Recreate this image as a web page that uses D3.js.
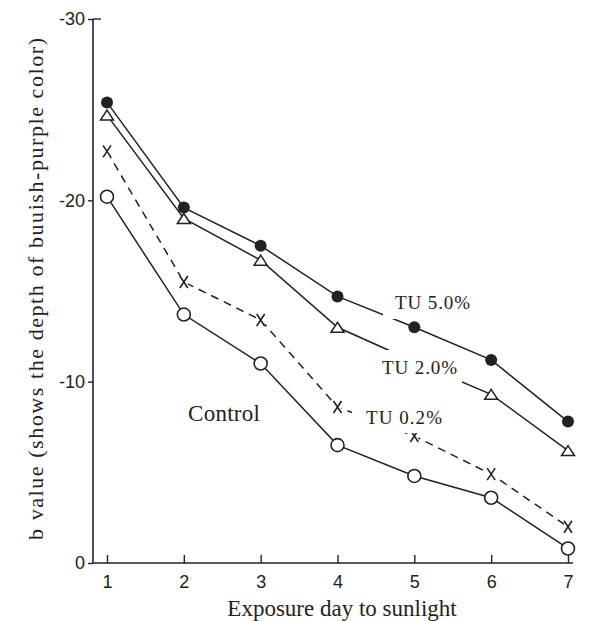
<!doctype html>
<html>
<head>
<meta charset="utf-8">
<title>b value vs exposure day</title>
<script src="https://cdnjs.cloudflare.com/ajax/libs/d3/7.8.5/d3.min.js"></script>
<style>
  body { margin: 0; background: #fff; }
  svg { display: block; }
  .tick text { font-family: "Liberation Sans", Arial, sans-serif; fill: #222; }
  .tick line { stroke: #222; stroke-width: 1.4; }
  .lbl { font-family: "Liberation Serif", "Times New Roman", serif; fill: #222; }
</style>
</head>
<body>
<div id="chart"></div>
<script>
// data (b value, negative = deeper colour)
const days = [1, 2, 3, 4, 5, 6, 7];
const tu50 = [-25.4, -19.6, -17.5, -14.7, -13.0, -11.2, -7.8];
const tu20 = [-24.7, -19.0, -16.7, -13.0, -11.1, -9.3, -6.2];
const tu02 = [-22.7, -15.5, -13.4, -8.6, -7.0, -4.9, -2.0];
const control = [-20.2, -13.7, -11.0, -6.5, -4.8, -3.6, -0.8];
const yTicks = [0, -10, -20, -30];
const xTicks = days;

const W = 590, H = 621;
const axisX = 93, axisY = 563;

const svg = d3.select('#chart').append('svg')
  .attr('width', W).attr('height', H);

const x = d3.scaleLinear().domain([1, 7]).range([107, 568]);
const y = d3.scaleLinear().domain([0, -30]).range([axisY, 19]);

const ink = '#222';

// axes
svg.append('line')
  .attr('x1', axisX).attr('x2', axisX)
  .attr('y1', y(-30)).attr('y2', axisY)
  .attr('stroke', ink).attr('stroke-width', 1.6);
svg.append('line')
  .attr('x1', axisX).attr('x2', x(7) + 5)
  .attr('y1', axisY).attr('y2', axisY)
  .attr('stroke', ink).attr('stroke-width', 1.6);
// small tick at the top going right
svg.append('line')
  .attr('x1', axisX).attr('x2', axisX + 8)
  .attr('y1', y(-30)).attr('y2', y(-30))
  .attr('stroke', ink).attr('stroke-width', 1.4);

const yAxis = svg.append('g')
  .attr('transform', `translate(${axisX},0)`)
  .call(d3.axisLeft(y).tickValues(yTicks).tickSize(5).tickPadding(2)
    .tickFormat(d => d === 0 ? '0' : '-' + Math.abs(d)));
yAxis.select('.domain').remove();
yAxis.selectAll('.tick text').attr('font-size', 18).attr('dx', '-1');

const xAxis = svg.append('g')
  .attr('transform', `translate(0,${axisY})`)
  .call(d3.axisBottom(x).tickValues(xTicks).tickSize(-8).tickPadding(12)
    .tickFormat(d3.format('d')));
xAxis.select('.domain').remove();
xAxis.selectAll('.tick text').attr('font-size', 18);

// axis titles
svg.append('text').attr('class', 'lbl')
  .attr('x', 342).attr('y', 616)
  .attr('text-anchor', 'middle')
  .attr('font-size', 23)
  .text('Exposure day to sunlight');

svg.append('text').attr('class', 'lbl')
  .attr('transform', 'translate(43,289) rotate(-90)')
  .attr('text-anchor', 'middle')
  .attr('font-size', 22)
  .attr('textLength', 502)
  .text('b value (shows the depth of buuish-purple color)');

// series
const series = [
  { name: 'TU 5.0%', values: tu50, marker: 'dot', dash: null },
  { name: 'TU 2.0%', values: tu20, marker: 'tri', dash: null },
  { name: 'TU 0.2%', values: tu02, marker: 'x', dash: '8,6' },
  { name: 'Control', values: control, marker: 'ring', dash: null }
];

const line = d3.line()
  .x(d => x(d.day))
  .y(d => y(d.v));

series.forEach(s => {
  const pts = days.map((d, i) => ({ day: d, v: s.values[i] }));
  s.pts = pts;
  svg.append('path')
    .datum(pts)
    .attr('d', line)
    .attr('fill', 'none')
    .attr('stroke', ink)
    .attr('stroke-width', 1.5)
    .attr('stroke-dasharray', s.dash);
});

// labels with white boxes that break the lines like the original
const labels = [
  { text: 'TU 5.0%', x: 395, y: 302, box: [383, 290, 90, 29], size: 19, len: 75 },
  { text: 'TU 2.0%', x: 382, y: 367, box: [380, 350, 82, 33], size: 19, len: 75 },
  { text: 'TU 0.2%', x: 366, y: 417, box: [352, 405, 92, 28], size: 19, len: 76 },
  { text: 'Control', x: 188, y: 413, box: null, size: 23, len: 72 }
];

// markers
series.forEach(s => {
  const g = svg.append('g');
  s.pts.forEach(p => {
    const cx = x(p.day), cy = y(p.v);
    if (s.marker === 'dot') {
      g.append('circle').attr('cx', cx).attr('cy', cy).attr('r', 6).attr('fill', ink);
    } else if (s.marker === 'ring') {
      g.append('circle').attr('cx', cx).attr('cy', cy).attr('r', 6.5)
        .attr('fill', '#fff').attr('stroke', ink).attr('stroke-width', 1.6);
    } else if (s.marker === 'tri') {
      g.append('path')
        .attr('d', `M${cx},${cy - 5}L${cx + 6.5},${cy + 5}L${cx - 6.5},${cy + 5}Z`)
        .attr('fill', '#fff').attr('stroke', ink).attr('stroke-width', 1.5);
    } else {
      g.append('rect').attr('x', cx - 4).attr('y', cy - 6).attr('width', 8).attr('height', 12).attr('fill', '#fff');
      g.append('path')
        .attr('d', `M${cx - 4},${cy - 6}L${cx + 4},${cy + 6}M${cx + 4},${cy - 6}L${cx - 4},${cy + 6}`)
        .attr('stroke', ink).attr('stroke-width', 1.6).attr('fill', 'none');
    }
  });
});

labels.forEach(l => {
  if (l.box) {
    svg.append('rect')
      .attr('x', l.box[0]).attr('y', l.box[1])
      .attr('width', l.box[2]).attr('height', l.box[3])
      .attr('fill', '#fff');
  }
  svg.append('text').attr('class', 'lbl')
    .attr('x', l.x).attr('y', l.y)
    .attr('dy', '0.35em')
    .attr('font-size', l.size)
    .attr('textLength', l.len)
    .text(l.text);
});
</script>
</body>
</html>
